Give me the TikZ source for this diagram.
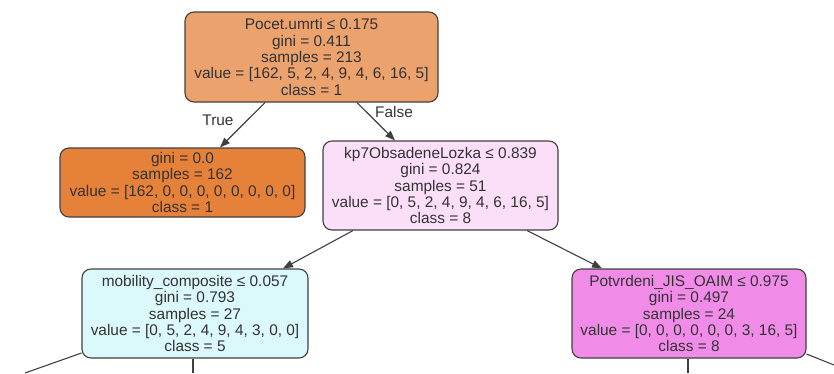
\documentclass[tikz,border=0pt]{standalone}
\usepackage{fontspec}
\setmainfont{Liberation Sans}
\usetikzlibrary{arrows.meta,calc}
\definecolor{rootc}{HTML}{ECA26C}
\definecolor{leafc}{HTML}{E58139}
\definecolor{midc}{HTML}{FBDEF8}
\definecolor{mobc}{HTML}{DBF8FA}
\definecolor{potc}{HTML}{F08CE8}
\definecolor{linec}{HTML}{404040}
\definecolor{txtc}{HTML}{333333}
\tikzset{
  treenode/.style={draw=linec, line width=1.1pt, rounded corners=9pt, align=center,
    font=\fontsize{15.4}{16.3}\selectfont, text=txtc, inner sep=0pt},
  treeedge/.style={draw=linec, line width=1.1pt, -{Triangle[length=10pt,width=7.5pt]}},
  treeline/.style={draw=linec, line width=1.1pt},
  edgelabel/.style={font=\fontsize{15.4}{16}\selectfont, text=txtc, inner sep=0pt}
}
\begin{document}
\begin{tikzpicture}[x=1pt,y=-1pt]
\useasboundingbox (0,0) rectangle (834,373);
\node[treenode, fill=rootc, minimum width=253pt, minimum height=90pt] (root) at (311.5,57)
  {Pocet.umrti ≤ 0.175\\gini = 0.411\\samples = 213\\value = [162, 5, 2, 4, 9, 4, 6, 16, 5]\\class = 1};
\node[treenode, fill=leafc, minimum width=245pt, minimum height=69pt] (leaf) at (182.5,182.5)
  {gini = 0.0\\samples = 162\\value = [162, 0, 0, 0, 0, 0, 0, 0, 0]\\class = 1};
\node[treenode, fill=midc, minimum width=235pt, minimum height=89pt] (mid) at (440.5,185.5)
  {kp7ObsadeneLozka ≤ 0.839\\gini = 0.824\\samples = 51\\value = [0, 5, 2, 4, 9, 4, 6, 16, 5]\\class = 8};
\node[treenode, fill=mobc, minimum width=226pt, minimum height=89pt] (mob) at (195,313.5)
  {mobility\_composite ≤ 0.057\\gini = 0.793\\samples = 27\\value = [0, 5, 2, 4, 9, 4, 3, 0, 0]\\class = 5};
\node[treenode, fill=potc, minimum width=234pt, minimum height=89pt] (pot) at (689,313.5)
  {Potvrdeni\_JIS\_OAIM ≤ 0.975\\gini = 0.497\\samples = 24\\value = [0, 0, 0, 0, 0, 0, 3, 16, 5]\\class = 8};
\draw[treeedge] ([xshift=-46.5pt]root.south) -- ([xshift=37.5pt]leaf.north);
\draw[treeedge] ([xshift=45.5pt]root.south) -- ([xshift=-45.5pt]mid.north);
\draw[treeedge] ([xshift=-87.5pt]mid.south) -- ([xshift=88pt]mob.north);
\draw[treeedge] ([xshift=86.5pt]mid.south) -- ([xshift=-87pt]pot.north);
\node[edgelabel] (truel) at (218,120) {True};
\node[edgelabel] (falsel) at (394,112) {False};
\coordinate (e1) at (25,373);
\coordinate (e2) at (193,373);
\coordinate (e3) at (688,373);
\coordinate (e4) at (834,365);
\draw[treeline] ([yshift=-39.5pt]mob.west) -- (e1);
\draw[treeline] ([xshift=-2pt]mob.south) -- (e2);
\draw[treeline] ([xshift=-1pt]pot.south) -- (e3);
\draw[treeline] ([yshift=-40.5pt]pot.east) -- (e4);
\end{tikzpicture}
\end{document}
